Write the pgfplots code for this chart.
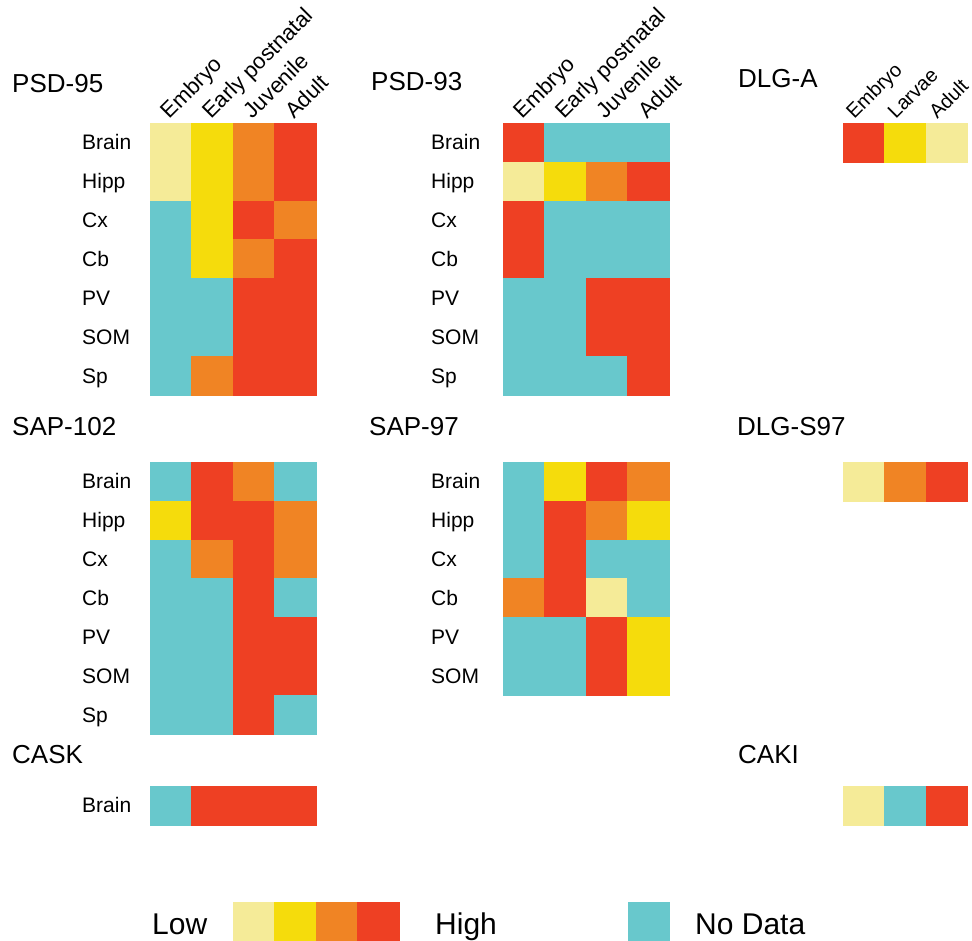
\documentclass[border=0pt]{standalone}
\usepackage{fontspec}
\setmainfont{Liberation Sans}
\usepackage{pgfplots}
\pgfplotsset{compat=1.18}
\definecolor{cND}{RGB}{104,200,204}
\definecolor{cA}{RGB}{245,235,152}
\definecolor{cB}{RGB}{245,220,12}
\definecolor{cC}{RGB}{240,132,36}
\definecolor{cD}{RGB}{238,64,35}
\pgfplotsset{
  heat/.style={scale only axis, anchor=north west, clip=false,
    axis line style={draw=none}, major tick style={draw=none}, minor tick style={draw=none},
    xmin=-0.5, ymax=0.5, xtick=\empty, ytick=\empty,
    ticklabel style={font=\fontsize{21}{25}\selectfont},
    yticklabel style={anchor=base west, inner xsep=0pt, yshift=-7.5pt, xshift=-68pt}},
  c4/.style={width=166pt, xmax=3.5},
  c3/.style={width=124.5pt, xmax=2.5},
  r7/.style={height=272pt, ymin=-6.5, ytick={0,-1,-2,-3,-4,-5,-6},
    yticklabels={Brain,Hipp,Cx,Cb,PV,SOM,Sp}},
  r6/.style={height=233.2pt, ymin=-5.5, ytick={0,-1,-2,-3,-4,-5},
    yticklabels={Brain,Hipp,Cx,Cb,PV,SOM}},
  r1/.style={height=38.86pt, ymin=-0.5},
  mid/.style={yticklabel style={xshift=-4pt}},
  toplab/.style={xticklabel pos=upper,
    xticklabel style={xshift=-1pt, yshift=3pt, rotate=45, anchor=base west, inner xsep=0pt,
      font=\fontsize{22}{26}\selectfont}},
  cell/.style={scatter, only marks, mark=square*, mark size=19.43pt,
    point meta=explicit symbolic, mark options={xscale=1.068, line width=0.3pt},
    scatter/classes={0={fill=cND,draw=cND},1={fill=cA,draw=cA},2={fill=cB,draw=cB},
      3={fill=cC,draw=cC},4={fill=cD,draw=cD}}},
}
\newcommand{\ttl}[3]{\node[anchor=base west, inner sep=0pt, font=\fontsize{26}{30}\selectfont] at (#1pt,-#2pt) {#3};}
\begin{document}
\begin{tikzpicture}
\useasboundingbox (0,0) rectangle (972pt,-941pt);
\ttl{12}{93}{PSD-95}
\ttl{371}{91}{PSD-93}
\ttl{738}{88}{DLG-A}
\ttl{12}{435}{SAP-102}
\ttl{369}{435}{SAP-97}
\ttl{737}{435}{DLG-S97}
\ttl{12}{763}{CASK}
\ttl{738}{763}{CAKI}

% PSD-95
\begin{axis}[heat, c4, r7, toplab, at={(150pt,-123pt)},
  xtick={0,1,2,3}, xticklabels={Embryo,Early postnatal,Juvenile,Adult}]
\addplot[cell] table[meta=c] {
x y c
0 0 1
1 0 2
2 0 3
3 0 4
0 -1 1
1 -1 2
2 -1 3
3 -1 4
0 -2 0
1 -2 2
2 -2 4
3 -2 3
0 -3 0
1 -3 2
2 -3 3
3 -3 4
0 -4 0
1 -4 0
2 -4 4
3 -4 4
0 -5 0
1 -5 0
2 -5 4
3 -5 4
0 -6 0
1 -6 3
2 -6 4
3 -6 4
};
\end{axis}

% PSD-93
\begin{axis}[heat, c4, r7, mid, toplab, at={(503pt,-123pt)},
  xtick={0,1,2,3}, xticklabels={Embryo,Early postnatal,Juvenile,Adult}]
\addplot[cell] table[meta=c] {
x y c
0 0 4
1 0 0
2 0 0
3 0 0
0 -1 1
1 -1 2
2 -1 3
3 -1 4
0 -2 4
1 -2 0
2 -2 0
3 -2 0
0 -3 4
1 -3 0
2 -3 0
3 -3 0
0 -4 0
1 -4 0
2 -4 4
3 -4 4
0 -5 0
1 -5 0
2 -5 4
3 -5 4
0 -6 0
1 -6 0
2 -6 0
3 -6 4
};
\end{axis}

% DLG-A
\begin{axis}[heat, c3, r1, toplab, at={(843pt,-123pt)},
  xtick={0,1,2}, xticklabels={Embryo,Larvae,Adult},
  xticklabel style={font=\fontsize{20}{24}\selectfont, xshift=-6pt, yshift=6pt}]
\addplot[cell] table[meta=c] {
x y c
0 0 4
1 0 2
2 0 1
};
\end{axis}

% SAP-102
\begin{axis}[heat, c4, r7, at={(150pt,-462pt)}]
\addplot[cell] table[meta=c] {
x y c
0 0 0
1 0 4
2 0 3
3 0 0
0 -1 2
1 -1 4
2 -1 4
3 -1 3
0 -2 0
1 -2 3
2 -2 4
3 -2 3
0 -3 0
1 -3 0
2 -3 4
3 -3 0
0 -4 0
1 -4 0
2 -4 4
3 -4 4
0 -5 0
1 -5 0
2 -5 4
3 -5 4
0 -6 0
1 -6 0
2 -6 4
3 -6 0
};
\end{axis}

% SAP-97
\begin{axis}[heat, c4, r6, mid, at={(503pt,-462pt)}]
\addplot[cell] table[meta=c] {
x y c
0 0 0
1 0 2
2 0 4
3 0 3
0 -1 0
1 -1 4
2 -1 3
3 -1 2
0 -2 0
1 -2 4
2 -2 0
3 -2 0
0 -3 3
1 -3 4
2 -3 1
3 -3 0
0 -4 0
1 -4 0
2 -4 4
3 -4 2
0 -5 0
1 -5 0
2 -5 4
3 -5 2
};
\end{axis}

% DLG-S97
\begin{axis}[heat, c3, r1, at={(843pt,-462pt)}]
\addplot[cell] table[meta=c] {
x y c
0 0 1
1 0 3
2 0 4
};
\end{axis}

% CASK
\begin{axis}[heat, c4, r1, at={(150pt,-786pt)}, ytick={0}, yticklabels={Brain}]
\addplot[cell] table[meta=c] {
x y c
0 0 0
1 0 4
2 0 4
3 0 4
};
\end{axis}

% CAKI
\begin{axis}[heat, c3, r1, at={(843pt,-786pt)}]
\addplot[cell] table[meta=c] {
x y c
0 0 1
1 0 0
2 0 4
};
\end{axis}

% Legend scale
\begin{axis}[heat, width=166pt, xmax=3.5, r1, at={(233pt,-902pt)}]
\addplot[cell] table[meta=c] {
x y c
0 0 1
1 0 2
2 0 3
3 0 4
};
\end{axis}
\begin{axis}[heat, width=41.5pt, xmax=0.5, r1, at={(628pt,-902pt)}]
\addplot[cell] table[meta=c] {
x y c
0 0 0
};
\end{axis}
\node[anchor=base west, inner sep=0pt, font=\fontsize{30}{34}\selectfont] at (152pt,-934pt) {Low};
\node[anchor=base west, inner sep=0pt, font=\fontsize{30}{34}\selectfont] at (435pt,-934pt) {High};
\node[anchor=base west, inner sep=0pt, font=\fontsize{30}{34}\selectfont] at (695pt,-934pt) {No Data};
\end{tikzpicture}
\end{document}
